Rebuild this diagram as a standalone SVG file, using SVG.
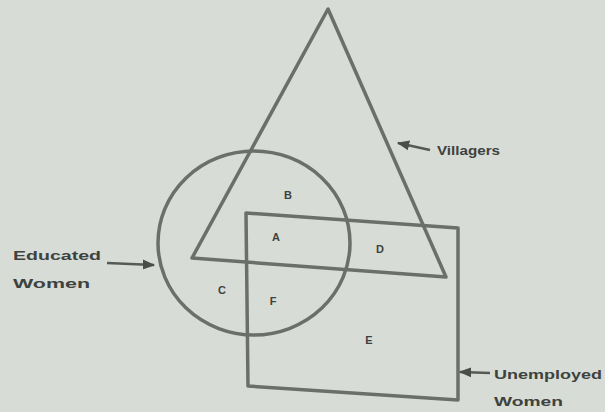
<svg xmlns="http://www.w3.org/2000/svg" width="605" height="412" viewBox="0 0 605 412">
<defs>
<marker id="ah" viewBox="0 0 10 10" refX="9" refY="5" markerWidth="5" markerHeight="5" orient="auto"><path d="M0,1 L10,5 L0,9 z" fill="#4a4e4a"/></marker>
<style>
.shape{fill:none;stroke:#6a6f6a;stroke-width:3.5;stroke-linejoin:round}
.conn{stroke:#555a55;stroke-width:2.5;marker-end:url(#ah)}
.lbl{font-family:"Liberation Sans",Arial,sans-serif;font-size:13px;font-weight:bold;fill:#3e423e}
.reg{font-family:"Liberation Sans",Arial,sans-serif;font-size:11px;font-weight:bold;fill:#3e423e;text-anchor:middle}
</style>
</defs>
<rect width="605" height="412" fill="#d7dcd6"/>
<g id="villagers">
<polygon class="shape" points="328,9 192,258 446,277"/>
<text class="lbl" x="437" y="155" textLength="63" lengthAdjust="spacingAndGlyphs">Villagers</text>
</g>
<g id="educated-women">
<ellipse class="shape" cx="254" cy="243" rx="96" ry="92" stroke="#5a5e5a"/>
<text class="lbl" x="13" y="260" textLength="88" lengthAdjust="spacingAndGlyphs">Educated</text>
<text class="lbl" x="13" y="288" textLength="77" lengthAdjust="spacingAndGlyphs">Women</text>
</g>
<g id="unemployed-women">
<polygon class="shape" points="246,213 458,228 458,400 248,386"/>
<text class="lbl" x="494" y="379" textLength="108" lengthAdjust="spacingAndGlyphs">Unemployed</text>
<text class="lbl" x="494" y="406" textLength="69" lengthAdjust="spacingAndGlyphs">Women</text>
</g>
<g id="regions">
<text class="reg" x="288" y="199">B</text>
<text class="reg" x="276" y="241">A</text>
<text class="reg" x="380" y="253">D</text>
<text class="reg" x="222" y="294">C</text>
<text class="reg" x="273" y="305">F</text>
<text class="reg" x="369" y="344">E</text>
</g>
<g id="connectors">
<line class="conn" x1="430" y1="150" x2="398" y2="143"/>
<line class="conn" x1="107" y1="263" x2="154" y2="265"/>
<line class="conn" x1="490" y1="373" x2="460" y2="372"/>
</g>
</svg>
